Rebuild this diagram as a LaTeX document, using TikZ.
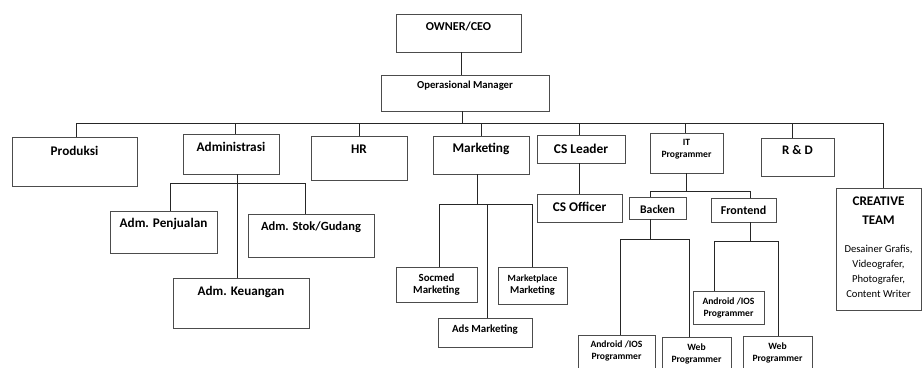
\documentclass[tikz,border=0pt]{standalone}
\usepackage{fontspec}
\setmainfont{Carlito}
\tikzset{
	kotak/.style={draw=black!70, line width=0.9pt, inner sep=0pt},
	teks/.style={inner sep=0pt, align=center, anchor=center},
	garis/.style={draw=black!85, line width=0.8pt},
}
% name left top right bottom textoffset fontsize text
\newcommand{\jabatan}[8]{
	\node[kotak, minimum width={#4-#2}, minimum height={#5-#3},
		label={[teks, yshift=-#6, font=\bfseries\fontsize{#7}{12}\selectfont]north:{#8}}]
		(#1) at ({(#2+#4)/2}, {(#3+#5)/2}) {};
}
\newcommand{\tipis}{\normalfont\fontsize{10.6}{12}\selectfont}

\begin{document}
\begin{tikzpicture}[x=1pt, y=-1pt]
	\useasboundingbox (0,0) rectangle (923,367);
	\clip (0,0) rectangle (923,367);
	%
	%top
	\jabatan{owner}{396}{14}{521}{52}{13}{12.1}{OWNER/CEO}
	\jabatan{opman}{381}{75}{549}{111}{11.3}{10.7}{Operasional Manager}
	%
	%divisi
	\jabatan{produksi}{12}{137}{137}{186}{14.4}{13.2}{Produksi}
	\jabatan{admin}{183}{134}{279}{174}{13.3}{13.2}{Administrasi}
	\jabatan{hr}{311}{136}{407}{180}{13.7}{13.2}{HR}
	\jabatan{marketing}{433}{136}{529}{174}{13.7}{13.3}{Marketing}
	\jabatan{csleader}{537}{135}{625}{163}{14}{13.4}{CS Leader}
	\jabatan{it}{650}{133}{723}{173}{17}{9.6}{IT\\Programmer}
	\jabatan{rnd}{761}{138}{834}{176}{13}{13}{R \& D}
	\jabatan{creative}{836}{188}{921}{310}{60}{13.2}{CREATIVE\\[7pt]TEAM\\[16pt]\tipis Desainer Grafis,\\[3pt]\tipis Videografer,\\[3pt]\tipis Photografer,\\[3pt]\tipis Content Writer}
	%
	%administrasi
	\jabatan{penjualan}{110}{211}{217}{253}{13.3}{13.2}{Adm. Penjualan}
	\jabatan{stok}{248}{214}{374}{257}{14}{12.5}{Adm. Stok/Gudang}
	\jabatan{keuangan}{173}{278}{309}{328}{14.4}{13.1}{Adm. Keuangan}
	%
	%marketing
	\jabatan{socmed}{396}{267}{477}{302}{18.4}{10.9}{Socmed\\Marketing}
	\jabatan{ads}{438}{318}{532}{347}{11.6}{10.9}{Ads Marketing}
	\jabatan{marketplace}{498}{267}{567}{304}{18.3}{9.5}{Marketplace\\\fontsize{10.5}{12}\selectfont Marketing}
	%
	%cs
	\jabatan{csofficer}{537}{194}{622}{222}{13.7}{13.3}{CS Officer}
	%
	%it
	\jabatan{backen}{629}{197}{686}{219}{13.3}{11.7}{Backen}
	\jabatan{frontend}{711}{198}{776}{222}{12.4}{12}{Frontend}
	\jabatan{androidf}{693}{291}{764}{324}{17.2}{9.6}{Android /IOS\\Programmer}
	\jabatan{androidb}{578}{335}{655}{375}{16.7}{9.6}{Android /IOS\\Programmer}
	\jabatan{webb}{662}{337}{731}{375}{16.9}{9.6}{Web\\Programmer}
	\jabatan{webf}{743}{336}{812}{375}{17}{9.6}{Web\\Programmer}
	%
	%connectors
	\coordinate (bus) at (0,123.3);
	\coordinate (a-bus) at (0,183.3);
	\coordinate (m-bus) at (0,204.3);
	\coordinate (i-bus) at (0,191.7);
	\coordinate (b-bus) at (0,239.3);
	\coordinate (f-bus) at (0,241);
	%
	\coordinate (o-akar) at ([xshift=3]owner.south);
	\draw[garis] (o-akar) -- (o-akar |- opman.north);
	\coordinate (op-akar) at ([xshift=-3]opman.south);
	\draw[garis] (op-akar) -- (op-akar |- bus);
	\foreach \n/\dx in {produksi/2, admin/4, hr/0, marketing/0, csleader/-2, it/-1, rnd/-5, creative/5}{
		\coordinate (t-\n) at ([xshift=\dx]\n.north);
		\draw[garis] (t-\n) -- (t-\n |- bus);
	}
	\draw[garis] (t-produksi |- bus) -- (t-creative |- bus);
	%
	%administrasi
	\coordinate (a-akar) at ([xshift=6]admin.south);
	\draw[garis] (a-akar) -- (a-akar |- keuangan.north);
	\coordinate (t-penjualan) at ([xshift=7]penjualan.north);
	\coordinate (t-stok) at ([xshift=-6]stok.north);
	\draw[garis] (t-penjualan) |- (t-stok |- a-bus) -- (t-stok);
	%
	%marketing
	\coordinate (m-akar) at ([xshift=-3.5]marketing.south);
	\draw[garis] (m-akar) -- (m-akar |- m-bus);
	\coordinate (t-socmed) at ([xshift=3]socmed.north);
	\coordinate (t-ads) at ([xshift=2]ads.north);
	\coordinate (t-marketplace) at (marketplace.north);
	\draw[garis] (t-socmed) |- (t-marketplace |- m-bus) -- (t-marketplace);
	\draw[garis] (t-ads) -- (t-ads |- m-bus);
	%
	%cs
	\draw[garis] (csofficer.north |- csleader.south) -- (csofficer.north);
	%
	%it
	\draw[garis] (it.south) -- (it.south |- i-bus);
	\coordinate (t-backen) at ([xshift=-7.5]backen.north);
	\coordinate (t-frontend) at ([xshift=7]frontend.north);
	\draw[garis] (t-backen) |- (t-frontend |- i-bus) -- (t-frontend);
	\coordinate (b-akar) at ([xshift=-7.5]backen.south);
	\draw[garis] (b-akar) -- (b-akar |- b-bus);
	\coordinate (t-androidb) at ([xshift=4]androidb.north);
	\coordinate (t-webb) at ([xshift=-7]webb.north);
	\draw[garis] (t-androidb) |- (t-webb |- b-bus) -- (t-webb);
	\coordinate (f-akar) at ([xshift=7]frontend.south);
	\draw[garis] (f-akar) -- (f-akar |- f-bus);
	\coordinate (t-androidf) at ([xshift=-14]androidf.north);
	\coordinate (t-webf) at ([xshift=0.5]webf.north);
	\draw[garis] (t-androidf) |- (t-webf |- f-bus) -- (t-webf);
\end{tikzpicture}
\end{document}
